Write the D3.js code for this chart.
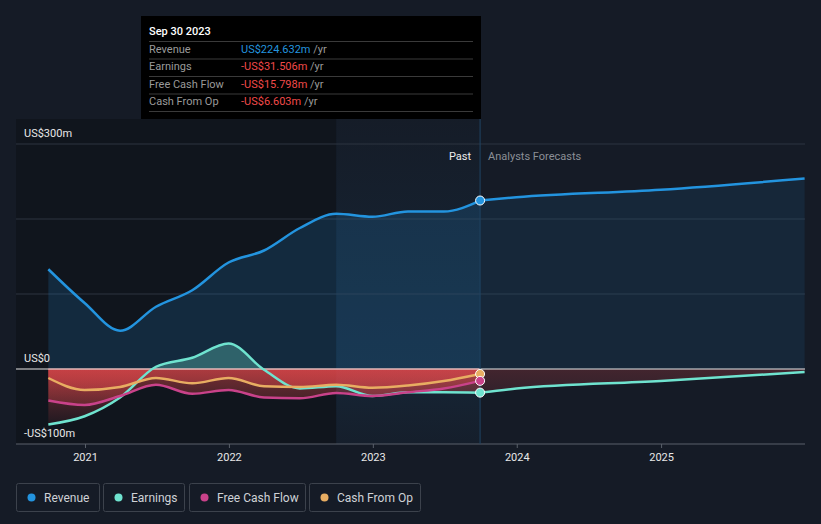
<!DOCTYPE html>
<html>
<head>
<meta charset="utf-8">
<script src="https://cdn.jsdelivr.net/npm/d3@7"></script>
<style>
  body { margin: 0; background: #151b26; font-family: Roboto, "Noto Sans", sans-serif; }
  svg { display: block; }
</style>
</head>
<body>
<svg id="chart" width="821" height="524"></svg>
<script>
// past quarters (trailing twelve months), US$m
var pastDates = ["2020-09-30","2020-12-31","2021-03-31","2021-06-30","2021-09-30","2021-12-31",
  "2022-03-31","2022-06-30","2022-09-30","2022-12-31","2023-03-31","2023-06-30","2023-09-30"]
var revenue  = [133, 88, 51, 83, 105, 142, 158, 188, 207, 203, 210, 210, 224.632]
var earnings = [-74, -63, -38, 3, 15, 34, -1, -26, -23, -36, -31, -31, -31.506]
var fcf      = [-42, -48, -36, -21, -33, -28, -38, -39, -32, -36, -31, -26, -15.798]
var cfo      = [-12, -28, -24, -12, -19, -12, -23, -24, -21, -25, -22, -16, -6.603]

// analyst forecasts
var fcDates = ["2023-09-30","2023-12-31","2024-12-31","2025-12-31"]
var revenueFc  = [224.632, 229, 239, 254]
var earningsFc = [-31.506, -26, -16, -4]

var yTicks = [-100, 0, 100, 200, 300]
var yLabels = {"300": "US$300m", "0": "US$0", "-100": "-US$100m"}
var xTicks = ["2021-01-01","2022-01-01","2023-01-01","2024-01-01","2025-01-01"]

var series = [
  {name: "Revenue", color: "#2394df"},
  {name: "Earnings", color: "#6fe3cf"},
  {name: "Free Cash Flow", color: "#c9428a"},
  {name: "Cash From Op", color: "#e8ad62"}
]
var tipRows = [
  ["Revenue", "US$224.632m", "#2394df"],
  ["Earnings", "-US$31.506m", "#f04a4a"],
  ["Free Cash Flow", "-US$15.798m", "#f04a4a"],
  ["Cash From Op", "-US$6.603m", "#f04a4a"]
]

var parse = d3.timeParse("%Y-%m-%d")
var left = 16, right = 805

var x = d3.scaleTime()
  .domain([parse("2021-01-01"), parse("2026-01-01")])
  .range([85, 805])
var y = d3.scaleLinear().domain([-100, 300]).range([444, 144])

var svg = d3.select("#chart")
var defs = svg.append("defs")

var redGrad = defs.append("linearGradient").attr("id", "redGrad")
  .attr("gradientUnits", "userSpaceOnUse")
  .attr("x1", 0).attr("x2", 0).attr("y1", y(0)).attr("y2", y(-80))
redGrad.append("stop").attr("offset", 0).attr("stop-color", "#e0474a").attr("stop-opacity", 0.5)
redGrad.append("stop").attr("offset", 1).attr("stop-color", "#e0474a").attr("stop-opacity", 0.04)

var bandGrad = defs.append("linearGradient").attr("id", "bandGrad")
  .attr("x1", 0).attr("x2", 0).attr("y1", 0).attr("y2", 1)
bandGrad.append("stop").attr("offset", 0).attr("stop-color", "#2394df").attr("stop-opacity", 0.01)
bandGrad.append("stop").attr("offset", 0.75).attr("stop-color", "#2394df").attr("stop-opacity", 0.09)
bandGrad.append("stop").attr("offset", 1).attr("stop-color", "#2394df").attr("stop-opacity", 0.03)

defs.append("clipPath").attr("id", "below").append("rect")
  .attr("x", 0).attr("y", y(0)).attr("width", 821).attr("height", 200)
defs.append("clipPath").attr("id", "above").append("rect")
  .attr("x", 0).attr("y", 0).attr("width", 821).attr("height", y(0))

var xPast = x(parse("2023-09-30")), xHi = x(parse("2022-09-30"))
var xStart = x(parse(pastDates[0]))

// past background + highlighted year
svg.append("rect").attr("x", left).attr("y", 119).attr("width", xHi - left).attr("height", y(-100) - 119)
  .attr("fill", "#10151d")
svg.append("rect").attr("x", xHi).attr("y", 119).attr("width", xPast - xHi).attr("height", y(-100) - 119)
  .attr("fill", "url(#bandGrad)")

// grid
svg.selectAll(".grid").data(yTicks.filter(function(d){ return d != 0 && d != -100 }))
  .enter().append("line")
  .attr("x1", left).attr("x2", right)
  .attr("y1", function(d){ return y(d) }).attr("y2", function(d){ return y(d) })
  .attr("stroke", "#2c3440").attr("stroke-width", 1)

var pts = function(dates, vals) {
  return dates.map(function(d, i){ return {date: parse(d), v: vals[i]} })
}
var line = d3.line().x(function(d){ return x(d.date) }).y(function(d){ return y(d.v) })
  .curve(d3.curveMonotoneX)
var area = d3.area().x(function(d){ return x(d.date) }).y0(y(0)).y1(function(d){ return y(d.v) })
  .curve(d3.curveMonotoneX)

var revPast = pts(pastDates, revenue), revFc = pts(fcDates, revenueFc)
var earnPast = pts(pastDates, earnings), earnFc = pts(fcDates, earningsFc)
var fcfPast = pts(pastDates, fcf), cfoPast = pts(pastDates, cfo)

// areas
svg.append("path").attr("d", area(revFc)).attr("fill", "#2394df").attr("fill-opacity", 0.1)
svg.append("path").attr("d", area(revPast)).attr("fill", "#2394df").attr("fill-opacity", 0.17)
svg.append("path").attr("d", area(earnPast)).attr("clip-path", "url(#above)")
  .attr("fill", "#6fe3cf").attr("fill-opacity", 0.3)
;[earnPast, fcfPast, cfoPast].forEach(function(p) {
  svg.append("path").attr("d", area(p)).attr("clip-path", "url(#below)")
    .attr("fill", "url(#redGrad)")
})
svg.append("path").attr("d", area(earnFc)).attr("clip-path", "url(#below)")
  .attr("fill", "url(#redGrad)").attr("opacity", 0.45)

// zero line + bottom axis
svg.append("line").attr("x1", left).attr("x2", right).attr("y1", y(0)).attr("y2", y(0))
  .attr("stroke", "#e6e6e6").attr("stroke-width", 1.2)
svg.append("line").attr("x1", xStart).attr("x2", xPast).attr("y1", y(0)).attr("y2", y(0))
  .attr("stroke", "#e2a4a4").attr("stroke-width", 1.2)

var xAxis = svg.append("g").attr("transform", "translate(0," + y(-100) + ")")
  .call(d3.axisBottom(x).tickValues(xTicks.map(parse)).tickFormat(d3.timeFormat("%Y"))
    .tickSize(4).tickSizeOuter(0))
xAxis.select(".domain").remove()
xAxis.append("line").attr("x1", left).attr("x2", right).attr("stroke", "#5a606a")
xAxis.selectAll(".tick line").attr("stroke", "#5a606a")
xAxis.selectAll(".tick text").attr("fill", "#e8e8e8").attr("font-size", 11)
  .attr("font-family", "Roboto, sans-serif").attr("dy", "0.95em")

// divider past / forecast
svg.append("line").attr("x1", xPast).attr("x2", xPast).attr("y1", 119).attr("y2", y(-100))
  .attr("stroke", "#1f4463").attr("stroke-width", 1)

// lines
var drawLine = function(p, color) {
  svg.append("path").attr("d", line(p)).attr("fill", "none")
    .attr("stroke", color).attr("stroke-width", 2.5)
}
drawLine(revFc, series[0].color)
drawLine(earnFc, series[1].color)
drawLine(earnPast, series[1].color)
drawLine(fcfPast, series[2].color)
drawLine(cfoPast, series[3].color)
drawLine(revPast, series[0].color)

// end markers
var ends = [[cfo, 3], [fcf, 2], [earnings, 1], [revenue, 0]]
ends.forEach(function(e) {
  svg.append("circle").attr("cx", xPast).attr("cy", y(e[0][e[0].length - 1])).attr("r", 4.5)
    .attr("fill", series[e[1]].color).attr("stroke", "#fff").attr("stroke-width", 1)
})

// y labels
svg.selectAll(".ylab").data(Object.keys(yLabels)).enter().append("text")
  .attr("x", 24).attr("y", function(d){ return y(+d) - 7.5 })
  .attr("fill", "#e8e8e8").attr("font-size", 11)
  .text(function(d){ return yLabels[d] })

svg.append("text").attr("x", xPast - 9).attr("y", 160).attr("text-anchor", "end")
  .attr("fill", "#ececec").attr("font-size", 11).text("Past")
svg.append("text").attr("x", xPast + 8).attr("y", 160)
  .attr("fill", "#8b8f96").attr("font-size", 11).text("Analysts Forecasts")

// tooltip
var tip = svg.append("g")
tip.append("rect").attr("x", 141).attr("y", 16).attr("width", 340).attr("height", 103).attr("fill", "#000")
tip.append("text").attr("x", 149).attr("y", 35).attr("fill", "#fff").attr("font-size", 11)
  .attr("font-weight", 500).text("Sep 30 2023")
tipRows.forEach(function(r, i) {
  var ty = 41.5 + i * 17.5
  tip.append("line").attr("x1", 149).attr("x2", 473).attr("y1", ty).attr("y2", ty)
    .attr("stroke", "#3a3a3a")
  tip.append("text").attr("x", 149).attr("y", ty + 11).attr("fill", "#9a9a9a")
    .attr("font-size", 11).text(r[0])
  var t = tip.append("text").attr("x", 241).attr("y", ty + 11).attr("font-size", 11)
  t.append("tspan").attr("fill", r[2]).text(r[1])
  t.append("tspan").attr("fill", "#9a9a9a").text(" /yr")
})
tip.append("line").attr("x1", 149).attr("x2", 473).attr("y1", 111.5).attr("y2", 111.5)
  .attr("stroke", "#3a3a3a")

// legend
var lx = [16, 103, 189, 309], lw = [83, 81, 116, 111]
series.forEach(function(s, i) {
  var g = svg.append("g").attr("transform", "translate(" + lx[i] + ",483)")
  g.append("rect").attr("x", 0.5).attr("y", 0.5).attr("width", lw[i]).attr("height", 28).attr("rx", 2)
    .attr("fill", "none").attr("stroke", "#3c424c")
  g.append("circle").attr("cx", 15.5).attr("cy", 14.5).attr("r", 4).attr("fill", s.color)
  g.append("text").attr("x", 28).attr("y", 18.5).attr("fill", "#cfd2d6").attr("font-size", 12).text(s.name)
})
</script>
</body>
</html>
